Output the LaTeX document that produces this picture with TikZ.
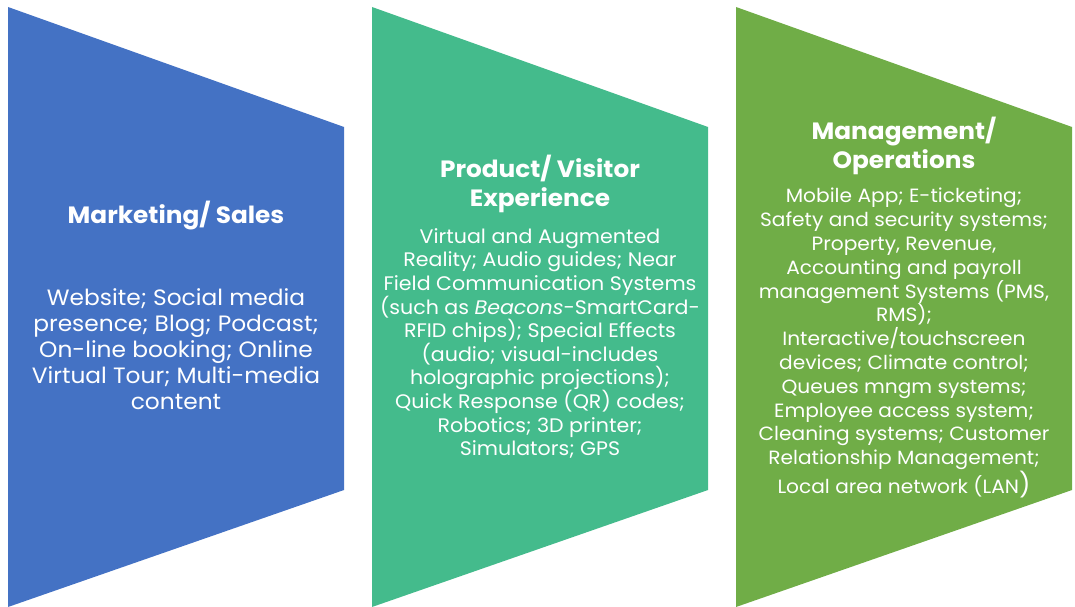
\documentclass[tikz,border=0pt]{standalone}
\usepackage{fontspec}
\setmainfont[FakeStretch=1.05]{Poppins}
\definecolor{cblue}{HTML}{4472C4}
\definecolor{cteal}{HTML}{44BB8C}
\definecolor{cgreen}{HTML}{70AD47}
\tikzset{
  titletext/.style={text=white, align=center, font=\bfseries\fontsize{23.6}{29}\selectfont, inner sep=0pt},
  bodytext/.style={text=white, align=center, inner sep=0pt},
}
\begin{document}
\begin{tikzpicture}[x=1pt,y=-1pt]
\useasboundingbox (0,0) rectangle (1075,607);
\fill[cblue] (8,7) -- (344,127) -- (344,490) -- (8,607) -- cycle;
\fill[cteal] (372,7) -- (708,127) -- (708,490) -- (372,607) -- cycle;
\fill[cgreen] (736,7) -- (1072,127) -- (1072,490) -- (736,607) -- cycle;

\node[titletext] (t1) at (176,216) {Marketing/ Sales};
\node[bodytext, font=\fontsize{22.2}{26}\selectfont] (b1) at (176,349)
  {Website; Social media\\presence; Blog; Podcast;\\On-line booking; Online\\Virtual Tour; Multi-media\\content};

\node[titletext] (t2) at (540,184) {Product/ Visitor\\Experience};
\node[bodytext, font=\fontsize{19.6}{23.6}\selectfont] (b2) at (540,343.5)
  {Virtual and Augmented\\Reality; Audio guides; Near\\Field Communication Systems\\(such as \textit{Beacons}-SmartCard-\\RFID chips); Special Effects\\(audio; visual-includes\\holographic projections);\\Quick Response (QR) codes;\\Robotics; 3D printer;\\Simulators; GPS};

\node[titletext] (t3) at (904,146) {Management/\\Operations};
\node[bodytext, font=\fontsize{19.2}{23.8}\selectfont] (b3) at (904,343)
  {Mobile App; E-ticketing;\\Safety and security systems;\\Property, Revenue,\\Accounting and payroll\\management Systems (PMS,\\RMS);\\Interactive/touchscreen\\devices; Climate control;\\Queues mngm systems;\\Employee access system;\\Cleaning systems; Customer\\Relationship Management;\\Local area network (LAN{\fontsize{24}{23.8}\selectfont)}};
\end{tikzpicture}
\end{document}
